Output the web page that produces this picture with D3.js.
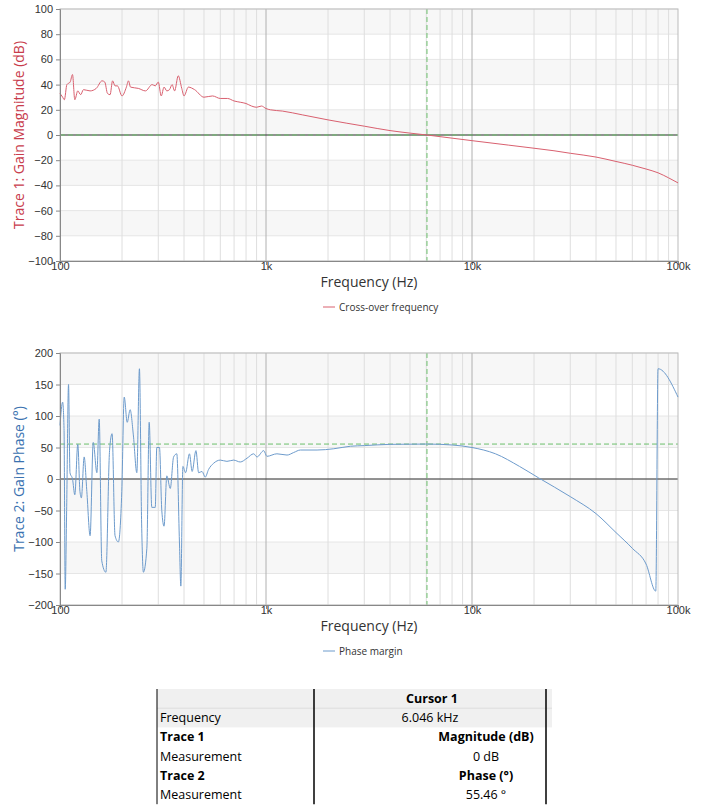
<!DOCTYPE html>
<html><head><meta charset="utf-8">
<script src="https://cdn.jsdelivr.net/npm/d3@7"></script>
<style>
body{margin:0;background:#fff;font-family:"Open Sans","Segoe UI",sans-serif;}
svg text{fill:#333;}
</style></head>
<body><svg id="c" width="702" height="812"></svg>
<script>
/* ---------- data ---------- */
const magFreq = [100,103,105,108,112,115,118,122,126,130,140,150,160,165,170,175,180,185,190,200,210,215,220,240,260,280,290,300,310,320,330,340,350,360,375,390,400,420,450,500,550,600,650,700,750,800,850,900,950,1000,1050,1200,1500,2000,3000,4000,5000,6046,8000,10000,15000,20000,25000,30000,40000,50000,60000,70000,80000,90000,100000];
const magDb   = [33,30,28,40,42,48,28,35,32,36,35,37,43,42,33,32,43,39,39,31,38,43,38,37,35,40,39,42,31,38,35,36,40,35,47,37,31,38,36,30,31,29,29,27,26,25,23,22,23,21,20,19,16,12,7,3.5,1.5,0,-2.5,-4.5,-8,-10.5,-12.5,-14.5,-17.5,-21,-24,-27,-30,-34,-38];

const phFreq = [100,103,104.6,106,107.7,110,111.8,115,118,122,125,127,131,135,140,145,151,155,159.5,167,174,179,185,192,199.5,205,212,219,227,236,243,249,254,264,271,279,290,295,304,312,320,330,343,356,369,380,386,395,407,425,438,457,471,489,507,526,557,600,646,696,750,809,871,904,975,1010,1130,1265,1362,1469,1770,2133,2570,3000,4000,6046,8000,10000,13000,17000,21000,30000,40000,50000,60000,70000,78000,80000,100000];
const phDeg  = [85,122,80,-175,-50,150,10,0,-25,55,-20,-30,35,-20,-90,58,10,95,-130,-148,45,72,-90,-100,-20,130,90,110,70,10,175,-70,-148,-110,90,-45,-45,50,50,-50,-75,5,-15,35,40,-100,-170,20,10,40,12,45,10,12,3,15,25,30,28,30,27,33,40,35,45,36,40,38,42,46,46,48,52,53,55,55.46,54,50,40,20,2,-28,-55,-85,-110,-135,-178,175,130];

const cursorFreq = 6046, phaseMargin = 55.46;
const magTicks = [-100,-80,-60,-40,-20,0,20,40,60,80,100];
const phTicks = [-200,-150,-100,-50,0,50,100,150,200];
const tableRows = [["Frequency","6.046 kHz",false],["Trace 1","Magnitude (dB)",true],["Measurement","0 dB",false],["Trace 2","Phase (°)",true],["Measurement","55.46 °",false]];

/* ---------- chart ---------- */
const svg = d3.select('#c');
const L = 60, R = 678;
const x = d3.scaleLog().domain([100,100000]).range([L,R]);
const fmtK = f => f >= 1000 ? (f/1000)+'k' : f;

function panel(top, bottom, ticks, freqs, vals, color, titleColor, title, refY, legend) {
  const y = d3.scaleLinear().domain([ticks[0], ticks[ticks.length-1]]).range([bottom, top]);
  const g = svg.append('g');
  // alternating bands
  for (let i = 0; i < ticks.length-1; i++) {
    if ((ticks.length-2-i) % 2 === 0)
      g.append('rect').attr('x',L).attr('width',R-L).attr('y',y(ticks[i+1])).attr('height',y(ticks[i])-y(ticks[i+1])).attr('fill','#f7f7f7');
  }
  // horizontal grid
  g.selectAll('.hg').data(ticks).join('line').attr('x1',L).attr('x2',R).attr('y1',d=>y(d)).attr('y2',d=>y(d)).attr('stroke','#e6e6e6');
  // vertical grid
  const minors = [];
  for (let d = 100; d < 100000; d *= 10) for (let k = 2; k <= 9; k++) minors.push(d*k);
  g.selectAll('.vm').data(minors).join('line').attr('x1',d=>x(d)).attr('x2',d=>x(d)).attr('y1',top).attr('y2',bottom).attr('stroke','#dedede');
  g.selectAll('.vM').data([1000,10000]).join('line').attr('x1',d=>x(d)).attr('x2',d=>x(d)).attr('y1',top).attr('y2',bottom).attr('stroke','#b0b0b0');
  // zero line
  g.append('line').attr('x1',L).attr('x2',R).attr('y1',y(0)).attr('y2',y(0)).attr('stroke','#333');
  // cursor
  g.append('line').attr('x1',x(cursorFreq)).attr('x2',x(cursorFreq)).attr('y1',top).attr('y2',bottom).attr('stroke','#6cbf6c').attr('stroke-dasharray','5,3');
  g.append('line').attr('x1',L).attr('x2',R).attr('y1',y(refY)).attr('y2',y(refY)).attr('stroke','#6cbf6c').attr('stroke-dasharray','5,3');
  // frame
  g.append('rect').attr('x',L).attr('y',top).attr('width',R-L).attr('height',bottom-top).attr('fill','none').attr('stroke','#bbb');
  // data
  g.append('path').datum(freqs.map((f,i)=>[f,vals[i]]))
    .attr('d', d3.line().curve(d3.curveMonotoneX).x(d=>x(d[0])).y(d=>y(d[1])))
    .attr('fill','none').attr('stroke',color).attr('stroke-width',1);
  // axes
  g.append('g').attr('transform',`translate(${L},0)`).call(d3.axisLeft(y).tickValues(ticks).tickSize(4))
    .call(a=>{a.select('.domain').attr('stroke','#888');a.selectAll('line').attr('stroke','#888');a.selectAll('text').attr('font-size',11).attr('fill','#333');});
  g.append('g').attr('transform',`translate(0,${bottom})`).call(d3.axisBottom(x).tickValues([100,1000,10000,100000]).tickFormat(fmtK).tickSize(4))
    .call(a=>{a.select('.domain').attr('stroke','#888');a.selectAll('line').attr('stroke','#888');a.selectAll('text').attr('font-size',11).attr('fill','#333').attr('dy','0.2em');});
  g.append('text').attr('x',369).attr('y',bottom+26).attr('text-anchor','middle').attr('font-size',14).text('Frequency (Hz)');
  g.append('text').attr('transform',`translate(24,${(top+bottom)/2}) rotate(-90)`).attr('text-anchor','middle').attr('font-size',14).style('fill',titleColor).text(title);
  // legend
  g.append('line').attr('x1',323).attr('x2',335).attr('y1',bottom+46).attr('y2',bottom+46).attr('stroke',color);
  g.append('text').attr('x',339).attr('y',bottom+50).attr('font-size',10).text(legend);
}

panel(9, 261, magTicks, magFreq, magDb, '#d9606f', '#c83c4c', 'Trace 1: Gain Magnitude (dB)', 0, 'Cross-over frequency');
panel(353, 605, phTicks, phFreq, phDeg, '#6d9bcc', '#3a72b0', 'Trace 2: Gain Phase (°)', phaseMargin, 'Phase margin');

/* ---------- table ---------- */
const tg = svg.append('g').attr('font-family','"Open Sans", sans-serif').attr('font-size',12.5);
const rowH = 19.2, t0 = 689;
tg.append('rect').attr('x',157).attr('y',t0).attr('width',395).attr('height',rowH*2).attr('fill','#f0f0f0');
tg.append('text').attr('x',432).attr('y',t0+14).attr('text-anchor','middle').attr('font-weight','bold').style('fill','#000').text('Cursor 1');
tg.append('line').attr('x1',157).attr('x2',552).attr('y1',t0+rowH).attr('y2',t0+rowH).attr('stroke','#ddd');
tableRows.forEach((r,i)=>{
  const yy = t0 + rowH*(i+1) + 14;
  tg.append('text').attr('x',160).attr('y',yy).attr('font-weight',r[2]?'bold':'normal').style('fill','#000').text(r[0]);
  tg.append('text').attr('x',i===0?430:486).attr('y',yy).attr('text-anchor','middle').attr('font-weight',r[2]?'bold':'normal').style('fill','#000').text(r[1]);
});
[157,314,546].forEach(xx=>tg.append('line').attr('x1',xx).attr('x2',xx).attr('y1',t0).attr('y2',t0+rowH*6).attr('stroke','#000').attr('stroke-width',xx===157?1:1.5));
</script></body></html>
